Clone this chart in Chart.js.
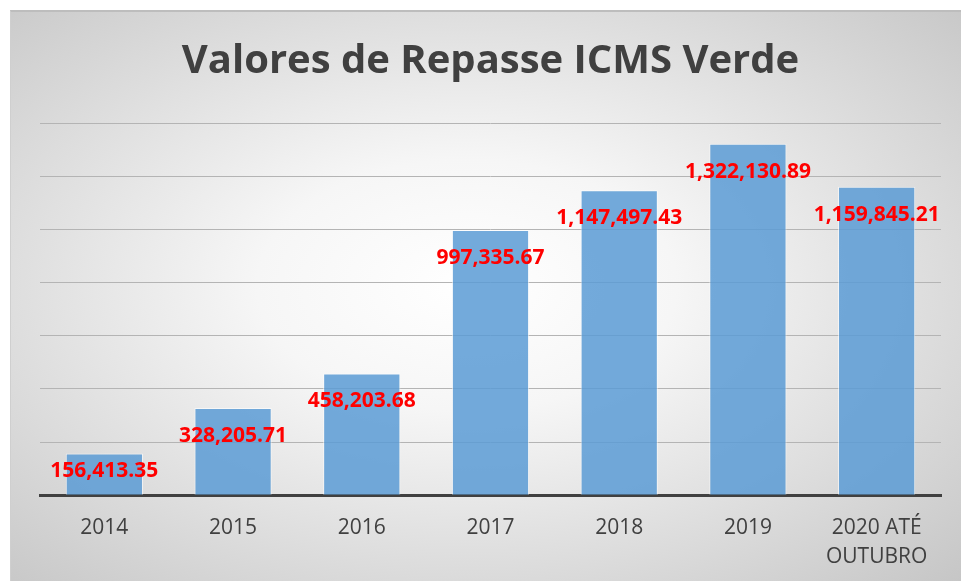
<!DOCTYPE html>
<html>
<head>
<meta charset="utf-8">
<script src="https://cdn.jsdelivr.net/npm/chart.js@4"></script>
<style>
  html, body { margin: 0; padding: 0; background: #fff; overflow: hidden; }
  #frame {
    position: absolute; left: 10px; top: 10px; width: 951px; height: 571px;
    border-top: 2px solid #bdbdbd; border-left: 1px solid #cfcfcf;
    box-sizing: border-box;
    background: radial-gradient(ellipse farthest-corner at 48% 48%, #ffffff 0%, #f6f6f6 30%, #c6c6c6 100%);
  }
  #wrap { position: absolute; left: 0; top: 0; width: 961px; height: 590px; }
</style>
</head>
<body>
<div id="frame"></div>
<div id="wrap"><canvas id="myChart"></canvas></div>
<script>
// dados
const anos = ['2014', '2015', '2016', '2017', '2018', '2019', ['2020 ATÉ', 'OUTUBRO']];
const valores = [156413.35, 328205.71, 458203.68, 997335.67, 1147497.43, 1322130.89, 1159845.21];
const rotulos = ['156,413.35', '328,205.71', '458,203.68', '997,335.67', '1,147,497.43', '1,322,130.89', '1,159,845.21'];

// rótulos vermelhos sobre as barras
const valorLabels = {
  id: 'valorLabels',
  afterDatasetsDraw(chart) {
    const ctx = chart.ctx;
    const meta = chart.getDatasetMeta(0);
    const base = chart.chartArea.bottom;
    ctx.save();
    ctx.font = 'bold 21px "Open Sans"';
    ctx.fillStyle = '#ff0000';
    ctx.textAlign = 'center';
    ctx.textBaseline = 'middle';
    meta.data.forEach(function(bar, i) {
      let y = Math.min(bar.y + 28, base - 24);
      ctx.fillText(rotulos[i], bar.x, y);
    });
    ctx.restore();
  }
};

var ctx = document.getElementById('myChart').getContext('2d');
var myChart = new Chart(ctx, {
  type: 'bar',
  data: {
    labels: anos,
    datasets: [{
      data: valores,
      backgroundColor: 'rgba(91,155,213,0.85)',
      borderColor: 'rgba(255,255,255,0.6)',
      borderWidth: 1,
      barPercentage: 0.6,
      categoryPercentage: 1
    }]
  },
  options: {
    responsive: true,
    maintainAspectRatio: false,
    animation: false,
    layout: { padding: { left: 40, right: 20, top: 0, bottom: 0 } },
    plugins: {
      legend: { display: false },
      tooltip: { enabled: false },
      title: {
        display: true,
        text: 'Valores de Repasse ICMS Verde',
        color: '#404040',
        font: { family: '"Open Sans"', size: 40, weight: 'bold', lineHeight: 1.2 },
        padding: { top: 38, bottom: 37 }
      }
    },
    scales: {
      x: {
        grid: { display: false, drawTicks: false },
        border: { display: true, color: '#404040', width: 3 },
        ticks: {
          color: '#404040',
          font: { family: '"Open Sans"', size: 21, lineHeight: 1.4 },
          padding: 18,
          maxRotation: 0,
          autoSkip: false
        }
      },
      y: {
        min: 0,
        max: 1400000,
        ticks: { display: false, stepSize: 200000 },
        grid: { color: '#b4b4b4', lineWidth: 1, drawTicks: false },
        border: { display: false }
      }
    }
  },
  plugins: [valorLabels]
});
</script>
</body>
</html>
